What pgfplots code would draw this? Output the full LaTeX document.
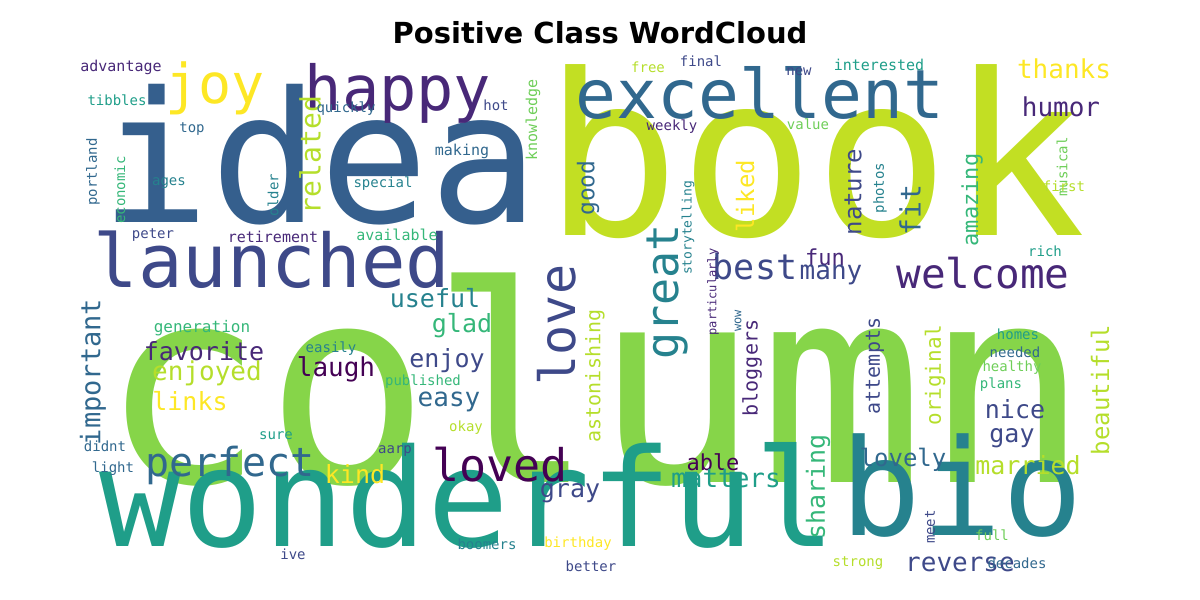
\documentclass[border=0pt]{standalone}
\usepackage{pgfplots}
\pgfplotsset{compat=1.18}
\usepackage{fontspec}
\setmainfont{DejaVu Sans}
\newfontfamily\wcf{DejaVu Sans Mono}
\definecolor{v1}{HTML}{440154}
\definecolor{v2}{HTML}{482878}
\definecolor{v3}{HTML}{3E4989}
\definecolor{v4}{HTML}{31688E}
\definecolor{v5}{HTML}{26828E}
\definecolor{v6}{HTML}{1F9E89}
\definecolor{v7}{HTML}{35B779}
\definecolor{v8}{HTML}{6ECE58}
\definecolor{v9}{HTML}{B5DE2B}
\definecolor{v10}{HTML}{FDE725}
\definecolor{col}{HTML}{86D549}
\definecolor{bk}{HTML}{C2DF23}
\definecolor{ide}{HTML}{355F8D}
\newcommand{\w}[6]{\node[text=#5,rotate=#4,inner sep=0pt,anchor=center] at (axis cs:#1,#2) {\wcf\fontsize{#3}{#3}\selectfont #6};}
\begin{document}
\begin{tikzpicture}
\begin{axis}[scale only axis,width=1200pt,height=600pt,xmin=0,xmax=1200,ymin=0,ymax=600,y dir=reverse,hide axis,clip=false]
\addplot[draw=none] coordinates {(0,0) (1200,600)};
\node[font=\bfseries\fontsize{29}{29}\selectfont] at (axis cs:600,33) {Positive Class WordCloud};
\w{595}{380}{274}{0}{col}{column}
\w{815}{152}{225}{0}{bk}{book}
\w{320}{155}{182}{0}{ide}{idea}
\w{468}{495}{136}{0}{v6}{wonderful}
\w{962}{486}{134}{0}{v5}{bio}
\w{760}{93}{68}{0}{v4}{excellent}
\w{398}{93}{62}{0}{v2}{happy}
\w{215}{88}{55}{0}{v10}{joy}
\w{272}{260}{74}{0}{v3}{launched}
\w{230}{465}{40}{0}{v4}{perfect}
\w{500}{465}{45}{0}{v1}{loved}
\w{755}{266}{35}{0}{v3}{best}
\w{983}{273}{41}{0}{v2}{welcome}
\w{1064}{69}{26}{0}{v10}{thanks}
\w{1061}{107}{26}{0}{v2}{humor}
\w{972}{200}{22}{90}{v7}{amazing}
\w{910}{210}{28}{90}{v4}{fit}
\w{853}{192}{24}{90}{v3}{nature}
\w{745}{196}{24}{90}{v10}{liked}
\w{588}{188}{23}{90}{v4}{good}
\w{310}{155}{28}{90}{v9}{related}
\w{557}{325}{50}{90}{v3}{love}
\w{668}{292}{45}{90}{v5}{great}
\w{825}{257}{22}{0}{v2}{fun}
\w{831}{275}{26}{0}{v3}{many}
\w{435}{298}{25}{0}{v5}{useful}
\w{462}{326}{25}{0}{v7}{glad}
\w{204}{351}{25}{0}{v2}{favorite}
\w{207}{373}{26}{0}{v9}{enjoyed}
\w{190}{401}{25}{0}{v10}{links}
\w{447}{361}{25}{0}{v3}{enjoy}
\w{336}{369}{26}{0}{v1}{laugh}
\w{449}{402}{26}{0}{v4}{easy}
\w{93}{372}{27}{90}{v4}{important}
\w{595}{376}{20}{90}{v9}{astonishing}
\w{752}{368}{20}{90}{v2}{bloggers}
\w{875}{366}{20}{90}{v3}{attempts}
\w{935}{375}{21}{90}{v9}{original}
\w{1100}{390}{24}{90}{v9}{beautiful}
\w{1015}{409}{25}{0}{v3}{nice}
\w{1012}{438}{25}{0}{v3}{gay}
\w{1028}{465}{25}{0}{v9}{married}
\w{903}{460}{24}{0}{v4}{lovely}
\w{355}{474}{25}{0}{v10}{kind}
\w{713}{462}{22}{0}{v1}{able}
\w{726}{479}{26}{0}{v6}{matters}
\w{570}{493}{25}{0}{v3}{gray}
\w{818}{487}{25}{90}{v7}{sharing}
\w{960}{564}{26}{0}{v3}{reverse}
\w{121}{67}{15}{0}{v2}{advantage}
\w{117}{100}{14}{0}{v6}{tibbles}
\w{192}{129}{14}{0}{v4}{top}
\w{93}{172}{14}{90}{v4}{portland}
\w{120}{190}{14}{90}{v7}{economic}
\w{169}{183}{14}{0}{v5}{ages}
\w{153}{235}{14}{0}{v3}{peter}
\w{273}{195}{14}{90}{v5}{older}
\w{383}{184}{14}{0}{v5}{special}
\w{273}{237}{15}{0}{v2}{retirement}
\w{397}{235}{15}{0}{v7}{available}
\w{462}{151}{15}{0}{v4}{making}
\w{346}{109}{14}{0}{v4}{quickly}
\w{496}{105}{14}{0}{v3}{hot}
\w{533}{120}{15}{90}{v8}{knowledge}
\w{648}{67}{14}{0}{v9}{free}
\w{701}{61}{14}{0}{v3}{final}
\w{672}{127}{14}{0}{v2}{weekly}
\w{799}{72}{14}{0}{v3}{new}
\w{879}{65}{15}{0}{v6}{interested}
\w{1062}{167}{14}{90}{v8}{musical}
\w{808}{124}{14}{0}{v8}{value}
\w{880}{188}{14}{90}{v5}{photos}
\w{688}{228}{13}{90}{v5}{storytelling}
\w{1064}{186}{14}{0}{v9}{first}
\w{1045}{251}{14}{0}{v6}{rich}
\w{713}{292}{12}{90}{v2}{particularly}
\w{738}{321}{12}{90}{v4}{wow}
\w{202}{328}{16}{0}{v7}{generation}
\w{331}{349}{14}{0}{v5}{easily}
\w{423}{382}{14}{0}{v7}{published}
\w{466}{428}{14}{0}{v9}{okay}
\w{276}{436}{14}{0}{v6}{sure}
\w{105}{446}{14}{0}{v4}{didnt}
\w{113}{469}{14}{0}{v4}{light}
\w{395}{451}{14}{0}{v3}{aarp}
\w{487}{544}{14}{0}{v5}{boomers}
\w{578}{544}{14}{0}{v10}{birthday}
\w{591}{566}{14}{0}{v3}{better}
\w{293}{554}{14}{0}{v3}{ive}
\w{858}{563}{14}{0}{v9}{strong}
\w{1017}{563}{14}{0}{v4}{decades}
\w{992}{535}{14}{0}{v8}{full}
\w{930}{527}{14}{90}{v3}{meet}
\w{1018}{334}{14}{0}{v6}{homes}
\w{1015}{352}{14}{0}{v4}{needed}
\w{1012}{368}{14}{0}{v8}{healthy}
\w{1001}{385}{14}{0}{v7}{plans}
\end{axis}
\end{tikzpicture}
\end{document}
